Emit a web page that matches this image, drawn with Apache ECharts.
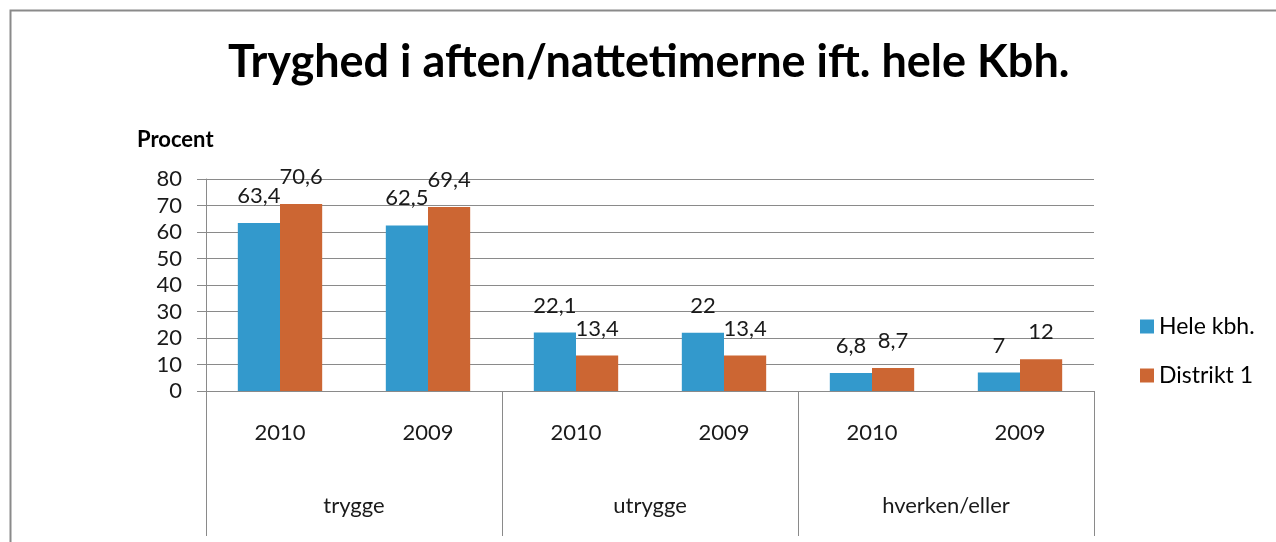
<!DOCTYPE html>
<html>
<head>
<meta charset="utf-8">
<script src="https://cdn.jsdelivr.net/npm/echarts@6/dist/echarts.min.js"></script>
<style>html,body{margin:0;padding:0;background:#fff}#c{width:1276px;height:542px}</style>
</head>
<body>
<div id="c"></div>
<script>
var years = ['2010', '2009', '2010', '2009', '2010', '2009'];
var groups = ['trygge', 'utrygge', 'hverken/eller'];
var heleKbh = [63.4, 62.5, 22.1, 22, 6.8, 7];
var distrikt1 = [70.6, 69.4, 13.4, 13.4, 8.7, 12];
var yTicks = {min: 0, max: 80, interval: 10};

var FONT = 'Lato, "Open Sans", sans-serif';
var fmt = function (p) { return String(p.value).replace('.', ','); };
var chart = echarts.init(document.getElementById('c'));
chart.setOption({
  animation: false,
  backgroundColor: '#fff',
  graphic: [{
    type: 'rect', left: 8, top: 8, z: -1,
    shape: {width: 1300, height: 600},
    style: {fill: 'none', stroke: '#8a8a8a', lineWidth: 2}
  }],
  title: [{
    text: 'Tryghed i aften/nattetimerne ift. hele Kbh.',
    left: 223, top: 35,
    textStyle: {fontFamily: FONT, fontWeight: 'bold', fontSize: 45, color: '#000'}
  }, {
    text: 'Procent', left: 132, top: 124,
    textStyle: {fontFamily: FONT, fontWeight: 'bold', fontSize: 22, color: '#000'}
  }],
  legend: {
    orient: 'vertical', left: 1135, top: 310,
    itemWidth: 14, itemHeight: 14, itemGap: 26,
    icon: 'rect',
    textStyle: {fontFamily: FONT, fontSize: 23, color: '#000'},
    data: ['Hele kbh.', 'Distrikt 1']
  },
  grid: {left: 206, right: 182, top: 179, bottom: 151, containLabel: false},
  xAxis: [{
    type: 'category', data: years, position: 'bottom',
    axisLine: {lineStyle: {color: '#8a8a8a', width: 1}},
    axisTick: {show: false},
    axisLabel: {margin: 31, fontFamily: FONT, fontSize: 22, color: '#1a1a1a'}
  }, {
    type: 'category', data: groups, position: 'bottom',
    axisLine: {show: false},
    axisTick: {show: true, length: 145, lineStyle: {color: '#8a8a8a'}},
    axisLabel: {margin: 104, fontFamily: FONT, fontSize: 22, color: '#1a1a1a'}
  }],
  yAxis: {
    type: 'value', min: yTicks.min, max: yTicks.max, interval: yTicks.interval,
    axisLine: {show: true, lineStyle: {color: '#8a8a8a'}},
    axisTick: {show: true, length: 9, lineStyle: {color: '#8a8a8a'}},
    splitLine: {lineStyle: {color: '#8a8a8a'}},
    axisLabel: {margin: 24, fontFamily: FONT, fontSize: 22, color: '#1a1a1a'}
  },
  series: [{
    name: 'Hele kbh.', type: 'bar', data: heleKbh, xAxisIndex: 0,
    itemStyle: {color: '#3399CC'}, barGap: '0%', barCategoryGap: '43%',
    label: {show: true, position: 'top', distance: 16, formatter: fmt,
      fontFamily: FONT, fontSize: 22, color: '#1a1a1a'}
  }, {
    name: 'Distrikt 1', type: 'bar', data: distrikt1, xAxisIndex: 0,
    itemStyle: {color: '#CC6633'},
    label: {show: true, position: 'top', distance: 16, formatter: fmt,
      fontFamily: FONT, fontSize: 22, color: '#1a1a1a'}
  }]
});
</script>
</body>
</html>
